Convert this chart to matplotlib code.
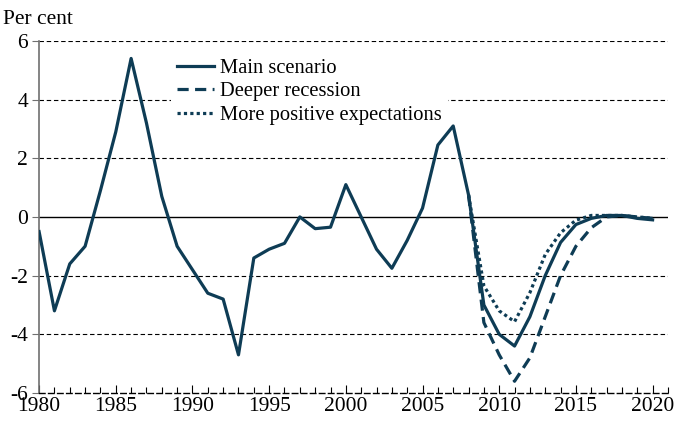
import numpy as np
import matplotlib.pyplot as plt
from matplotlib.ticker import MultipleLocator

years = list(range(1980, 2021))
main = [-0.5, -3.2, -1.6, -1.0, 0.9, 2.9, 5.4, 3.2, 0.7, -1.0,
        -1.8, -2.6, -2.8, -4.7, -1.4, -1.1, -0.9, 0.0, -0.4, -0.35,
        1.1, 0.0, -1.1, -1.75, -0.8, 0.3, 2.45, 3.1, 0.75, -3.0,
        -4.0, -4.4, -3.4, -2.0, -0.87, -0.26, -0.05, 0.05, 0.05, -0.05,
        -0.1]
scen_years = list(range(2008, 2021))
deeper = [0.75, -3.6, -4.7, -5.6, -4.8, -3.4, -2.0, -1.0, -0.37, 0.0,
          0.05, 0.0, -0.05]
positive = [0.75, -2.35, -3.2, -3.57, -2.58, -1.28, -0.54, -0.11, 0.05, 0.05,
            0.05, 0.0, -0.05]

col = '#0e3c55'
plt.rcParams['font.family'] = ['Liberation Serif', 'DejaVu Serif']
plt.rcParams['axes.unicode_minus'] = False

fig = plt.figure(figsize=(6.74, 4.21), dpi=100)
ax = fig.add_axes([0.058, 0.0665, 0.933, 0.8365])

# dashed grid, solid zero line
for v in [2, 4, 6, -2, -4]:
    ax.axhline(v, color='black', lw=0.8, ls=(0, (4, 2.5)), zorder=1)
ax.axhline(0, color='black', lw=1.0, zorder=1)

ax.plot(years, main, color=col, lw=2.3, label='Main scenario', zorder=3)
ax.plot(scen_years, deeper, color=col, lw=2.3, ls=(0, (3.5, 2)), label='Deeper recession', zorder=3)
ax.plot(scen_years, positive, color=col, lw=2.3, ls=(0, (1, 1)), label='More positive expectations', zorder=3)

ax.set_xlim(1980, 2021)
ax.set_ylim(-6, 6)
ax.xaxis.set_major_locator(MultipleLocator(5))
ax.xaxis.set_minor_locator(MultipleLocator(1))
ax.yaxis.set_major_locator(MultipleLocator(2))
ax.tick_params(axis='x', which='major', direction='in', length=6, width=0.8, labelsize=15.5, pad=3)
ax.tick_params(axis='x', which='minor', direction='in', length=4, width=0.8)
ax.tick_params(axis='y', direction='out', length=5, width=0.8, labelsize=15.5, pad=3, color='#707070')
for s in ['top', 'right']:
    ax.spines[s].set_visible(False)
ax.spines['left'].set_color('#707070')
ax.spines['left'].set_linewidth(1.2)
ax.spines['bottom'].set_linewidth(1.0)
ax.spines['bottom'].set_linestyle((0, (4, 2.5)))

fig.text(0.004, 0.93, 'Per cent', fontsize=15.5, ha='left', va='bottom')

leg = ax.legend(loc='upper left', bbox_to_anchor=(0.2, 0.985), frameon=True, fontsize=14.8,
                handlelength=1.8, handletextpad=0.3, labelspacing=0.2, borderpad=0.3,
                borderaxespad=0.3)
leg.get_frame().set_edgecolor('none')
leg.get_frame().set_facecolor('white')
leg.get_frame().set_alpha(1)

fig.savefig('out.png', dpi=100)
